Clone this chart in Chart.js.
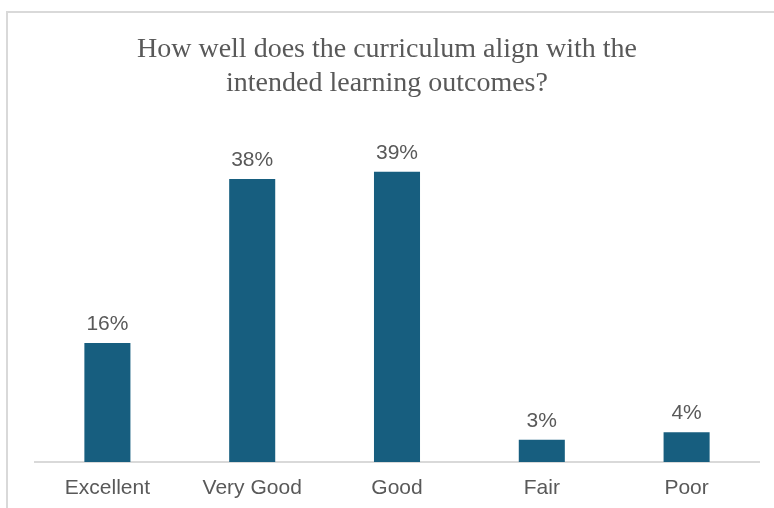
<!DOCTYPE html>
<html>
<head>
<meta charset="utf-8">
<script src="https://cdn.jsdelivr.net/npm/chart.js@4.4.1/dist/chart.umd.min.js"></script>
<style>
  html, body { margin: 0; padding: 0; background: #fff; }
  #wrap { position: relative; width: 774px; height: 508px; overflow: hidden; }
  #frame { position: absolute; left: 6px; top: 11px; width: 800px; height: 600px;
           border-left: 2px solid #d9d9d9; border-top: 2px solid #d9d9d9; }
  #chart { position: absolute; left: 0; top: 0; }
</style>
</head>
<body>
<div id="wrap">
  <div id="frame"></div>
  <canvas id="chart" width="774" height="508"></canvas>
</div>
<script>
const titleLines = ['How well does the curriculum align with the', 'intended learning outcomes?'];
const categories = ['Excellent', 'Very Good', 'Good', 'Fair', 'Poor'];
const percentages = [16, 38, 39, 3, 4];

const textColor = '#595959';
const barColor = '#175e7f';

// draws the two-line serif title
const titlePlugin = {
    id: 'surveyTitle',
    afterDraw(chart) {
        const ctx = chart.ctx;
        ctx.save();
        ctx.font = '28px "Liberation Serif", "Times New Roman", serif';
        ctx.fillStyle = textColor;
        ctx.textAlign = 'center';
        ctx.textBaseline = 'alphabetic';
        ctx.fillText(titleLines[0], 387, 57);
        ctx.fillText(titleLines[1], 387, 91);
        ctx.restore();
    }
};

// value labels above each bar
const valueLabels = {
    id: 'valueLabels',
    afterDatasetsDraw(chart) {
        const ctx = chart.ctx;
        const meta = chart.getDatasetMeta(0);
        ctx.save();
        ctx.font = '21px "Liberation Sans", Arial, sans-serif';
        ctx.fillStyle = textColor;
        ctx.textAlign = 'center';
        ctx.textBaseline = 'alphabetic';
        meta.data.forEach((bar, i) => {
            ctx.fillText(percentages[i] + '%', bar.x, bar.y - 13);
        });
        ctx.restore();
    }
};

new Chart(document.getElementById('chart').getContext('2d'), {
    type: 'bar',
    data: {
        labels: categories,
        datasets: [{
            data: percentages,
            backgroundColor: barColor,
            borderWidth: 0,
            categoryPercentage: 1,
            barPercentage: 0.318
        }]
    },
    options: {
        responsive: false,
        animation: false,
        layout: { padding: { left: 35, right: 15, top: 127, bottom: 0 } },
        plugins: {
            legend: { display: false },
            title: { display: false },
            tooltip: { enabled: false }
        },
        scales: {
            x: {
                grid: { display: false, drawTicks: false },
                border: { display: true, color: '#d9d9d9', width: 2 },
                ticks: {
                    color: textColor,
                    padding: 14,
                    font: { family: '"Liberation Sans", Arial, sans-serif', size: 21 }
                },
                afterFit(scale) { scale.height = 46; }
            },
            y: {
                display: false,
                min: 0,
                max: 45
            }
        }
    },
    plugins: [titlePlugin, valueLabels]
});
</script>
</body>
</html>
